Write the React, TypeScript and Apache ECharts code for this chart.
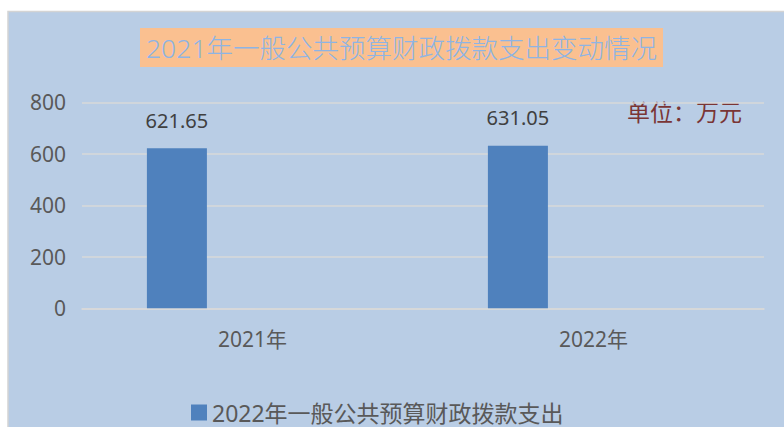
import React, { useEffect, useRef } from "react";
import * as echarts from "echarts";

const categories = ["2021年", "2022年"];
const seriesName = "2022年一般公共预算财政拨款支出";
const values = [621.65, 631.05];
const emptyValues = ["-", "-"];
const yTicks = { min: 0, max: 800, interval: 200 };
const titleText = "2021年一般公共预算财政拨款支出变动情况";
const unitText = "单位：万元";

const FONT = "'Noto Sans', 'Noto Sans CJK SC', sans-serif";

export default function App() {
  const ref = useRef<HTMLDivElement>(null);
  useEffect(() => {
    if (!ref.current) return;
    const chart = echarts.init(ref.current, null, { renderer: "svg" });
    chart.setOption({
      animation: false,
      backgroundColor: "#ffffff",
      graphic: [
        {
          type: "rect",
          z: -10,
          silent: true,
          shape: { x: 8, y: 11.5, width: 790, height: 430 },
          style: { fill: "#b9cde5", stroke: "#d4d4d4", lineWidth: 1.5 },
        },
        {
          type: "rect",
          z: -5,
          silent: true,
          shape: { x: 140, y: 28, width: 523, height: 39 },
          style: { fill: "#fac090" },
        },
        {
          type: "text",
          x: 401.5,
          y: 48,
          style: {
            text: titleText,
            fill: "#8eb4e3",
            font: `300 26.5px ${FONT}`,
            textAlign: "center",
            textVerticalAlign: "middle",
          },
        },
        {
          type: "text",
          x: 627,
          y: 112,
          style: {
            text: unitText,
            fill: "#7a3535",
            font: `23px ${FONT}`,
            textAlign: "left",
            textVerticalAlign: "middle",
          },
        },
      ],
      legend: {
        data: [seriesName],
        left: 186,
        top: 396,
        icon: "rect",
        itemWidth: 16,
        itemHeight: 16,
        itemGap: 10,
        textStyle: { fontSize: 23, color: "#595959", fontFamily: FONT },
      },
      grid: { left: 82, right: 20, top: 102.3, bottom: 118.7 },
      xAxis: {
        type: "category",
        data: categories,
        axisLine: { show: true, lineStyle: { color: "#d9d9d9", width: 1.5 } },
        axisTick: { show: false },
        axisLabel: { fontSize: 21, color: "#595959", fontFamily: FONT, margin: 20 },
      },
      yAxis: {
        type: "value",
        min: yTicks.min,
        max: yTicks.max,
        interval: yTicks.interval,
        axisLine: { show: false },
        axisTick: { show: false },
        splitLine: { lineStyle: { color: "#d9d9d9", width: 1.5 } },
        axisLabel: { fontSize: 21, color: "#595959", fontFamily: FONT, margin: 16 },
      },
      series: [
        {
          name: seriesName,
          type: "bar",
          data: values,
          barWidth: 60,
          barGap: "152%",
          itemStyle: { color: "#4f81bd" },
          label: {
            show: true,
            position: "top",
            distance: 18,
            fontSize: 20,
            color: "#404040",
            fontFamily: FONT,
            formatter: (p: any) => p.value.toFixed(2),
          },
        },
        {
          name: "blank",
          type: "bar",
          data: emptyValues,
          barWidth: 60,
          itemStyle: { color: "#c0504d" },
        },
      ],
    });
    return () => chart.dispose();
  }, []);
  return (
    <div
      ref={ref}
      style={{ position: "fixed", left: 0, top: 0, width: 784, height: 427 }}
    />
  );
}
